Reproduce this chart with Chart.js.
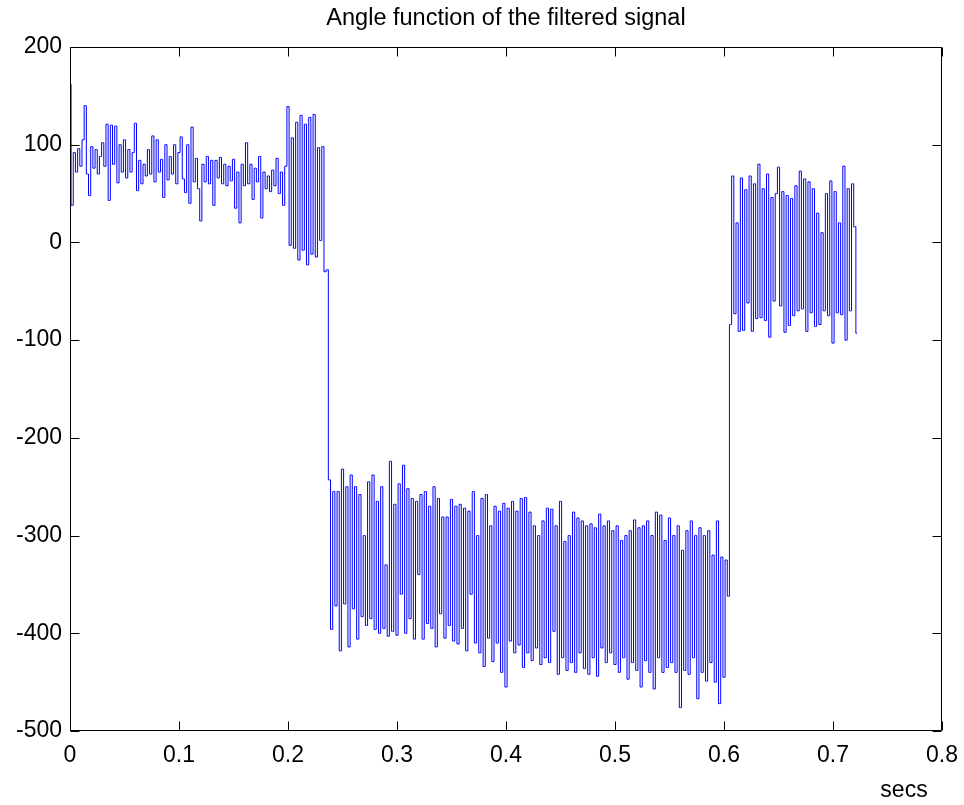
<!DOCTYPE html>
<html>
<head>
<meta charset="utf-8">
<script src="https://cdn.jsdelivr.net/npm/chart.js@4/dist/chart.umd.min.js"></script>
<style>
  html, body { margin: 0; padding: 0; background: #fff; }
  canvas { display: block; }
</style>
</head>
<body>
<canvas id="c" width="964" height="805"></canvas>
<script>
// Sampling grid of the filtered signal (seconds between samples)
const samplePeriod = 0.002;

// Phase angle per sample, in order
const angleStart = [
  162, 38, 92, 72, 96, 78, 105, 140, 70, 48,
  98, 76, 95, 70, 88, 102, 78, 121, 43, 120,
  80, 119, 61, 100, 72, 105, 66, 95, 72, 92,
  122, 53, 84, 60, 80, 68, 95, 70, 109, 62,
  105, 72, 85, 46, 100, 64, 88, 70, 100, 60,
  92, 108, 65, 51, 100, 40, 118, 62, 86, 55,
  22, 80, 62, 88, 60, 84, 38, 84, 66, 87,
  60, 80, 58, 78, 63, 85, 35, 72, 20, 80,
  58, 102, 60, 80, 44, 76, 62, 88, 25, 72,
  55, 68, 52, 74, 58, 86, 50, 72, 38, 78
];

const angleBurst = [
  139, -3, 107, -6, 123, -18, 130, -8, 121, -23,
  128, -12, 131, -15, 97, 2, 98, -30, -28
];

const angleLow = [
  -243, -396, -255, -372, -255, -418, -232, -370, -250, -414,
  -238, -375, -250, -406, -258, -383, -300, -392, -245, -385,
  -238, -396, -265, -400, -250, -395, -330, -403, -224, -398,
  -268, -402, -247, -360, -228, -400, -252, -385, -262, -406,
  -265, -340, -258, -406, -255, -390, -270, -395, -250, -414,
  -262, -380, -281, -405, -281, -392, -263, -408, -270, -411,
  -268, -395, -272, -418, -275, -360, -255, -410, -300, -420,
  -262, -434, -258, -405, -290, -429, -270, -410, -275, -440,
  -267, -455, -272, -408, -265, -420, -275, -412, -262, -435,
  -261, -420, -276, -428, -290, -415, -300, -432, -285, -425,
  -272, -430, -273, -398, -290, -442, -265, -425, -306, -438,
  -300, -430, -276, -440, -282, -420, -285, -436, -290, -442,
  -288, -425, -292, -444, -278, -415, -290, -430, -285, -420,
  -295, -432, -290, -440, -305, -425, -300, -447, -295, -430,
  -284, -438, -292, -455, -290, -428, -285, -440, -300, -457,
  -276, -425, -279, -440, -305, -435, -282, -430, -300, -440,
  -290, -476, -315, -438, -295, -442, -285, -425, -300, -467,
  -292, -440, -300, -449, -295, -430, -320, -450, -285, -472,
  -322, -445, -325, -362
];

const angleEnd = [
  -84, 68, -73, 20, -91, 66, -90, 54, -62, 68,
  -91, 60, -78, 80, -77, 55, -80, 70, -97, 46,
  -60, 50, 77, -65, 52, -92, 48, -85, 45, -75,
  58, -70, 73, -68, 65, -91, 62, -72, 55, -86,
  30, -84, 10, -70, 50, -75, 63, -103, 52, -72,
  20, -74, 78, -100, 55, -70, 60, 16, -93
];

const xTickValues = [0, 0.1, 0.2, 0.3, 0.4, 0.5, 0.6, 0.7, 0.8];
const xTickLabels = ['0', '0.1', '0.2', '0.3', '0.4', '0.5', '0.6', '0.7', '0.8'];
const yTickValues = [-500, -400, -300, -200, -100, 0, 100, 200];
const yTickLabels = ['-500', '-400', '-300', '-200', '-100', '0', '100', '200'];

const angle = [...angleStart, ...angleBurst, ...angleLow, ...angleEnd];
const points = angle.map((v, i) => ({ x: i * samplePeriod, y: v }));

const FONT = "'Liberation Sans', Arial, Helvetica, sans-serif";
Chart.defaults.color = '#000';
Chart.defaults.font.family = FONT;

// Box frame with inward tick marks on all four sides, plus the x label
const frameAndTicks = {
  id: 'frameAndTicks',
  afterDraw(chart) {
    const { ctx, chartArea: a, scales } = chart;
    const L = Math.round(a.left) + 0.5, R = Math.round(a.right) - 0.5;
    const T = Math.round(a.top) + 0.5, B = Math.round(a.bottom) - 0.5;
    const len = 9;
    ctx.save();
    ctx.strokeStyle = '#000';
    ctx.lineWidth = 1;
    ctx.beginPath();
    ctx.rect(L, T, R - L, B - T);
    scales.x.ticks.forEach(t => {
      const px = Math.round(scales.x.getPixelForValue(t.value)) + 0.5;
      ctx.moveTo(px, B); ctx.lineTo(px, B - len);
      ctx.moveTo(px, T); ctx.lineTo(px, T + len);
    });
    scales.y.ticks.forEach(t => {
      const py = Math.round(scales.y.getPixelForValue(t.value)) + 0.5;
      ctx.moveTo(L, py); ctx.lineTo(L + len, py);
      ctx.moveTo(R, py); ctx.lineTo(R - len, py);
    });
    ctx.stroke();
    ctx.fillStyle = '#000';
    ctx.font = '23px ' + FONT;
    ctx.textAlign = 'center';
    ctx.textBaseline = 'middle';
    ctx.fillText('secs', a.right - 38, a.bottom + 60);
    ctx.restore();
  }
};

new Chart(document.getElementById('c'), {
  type: 'line',
  data: {
    datasets: [{
      data: points,
      borderColor: '#0000ff',
      borderWidth: 1,
      pointRadius: 0,
      stepped: 'middle',
      fill: false
    }]
  },
  options: {
    responsive: false,
    animation: false,
    devicePixelRatio: 1,
    layout: { padding: { left: 0, right: 22, top: 0, bottom: 0 } },
    plugins: {
      legend: { display: false },
      tooltip: { enabled: false },
      title: {
        display: true,
        fullSize: false,
        text: 'Angle function of the filtered signal',
        color: '#000',
        font: { size: 23.5, weight: 'normal', family: FONT },
        padding: { top: 4, bottom: 14.8 }
      }
    },
    scales: {
      x: {
        type: 'linear',
        min: 0,
        max: 0.8,
        afterBuildTicks(scale) { scale.ticks = xTickValues.map(v => ({ value: v })); },
        afterFit(scale) {
          scale.height = 74;
          scale.paddingLeft = 0;
          scale.paddingRight = 0;
        },
        grid: { display: false, drawTicks: false },
        border: { display: false },
        ticks: {
          autoSkip: false,
          maxRotation: 0,
          padding: 11,
          color: '#000',
          font: { size: 23, family: FONT },
          callback: (v, i) => xTickLabels[i]
        }
      },
      y: {
        type: 'linear',
        min: -500,
        max: 200,
        afterBuildTicks(scale) { scale.ticks = yTickValues.map(v => ({ value: v })); },
        afterFit(scale) {
          scale.width = 70;
          scale.paddingTop = 0;
          scale.paddingBottom = 0;
        },
        grid: { display: false, drawTicks: false },
        border: { display: false },
        ticks: {
          autoSkip: false,
          padding: 8,
          color: '#000',
          font: { size: 23, family: FONT },
          callback: (v, i) => yTickLabels[i]
        }
      }
    }
  },
  plugins: [frameAndTicks]
});
</script>
</body>
</html>
